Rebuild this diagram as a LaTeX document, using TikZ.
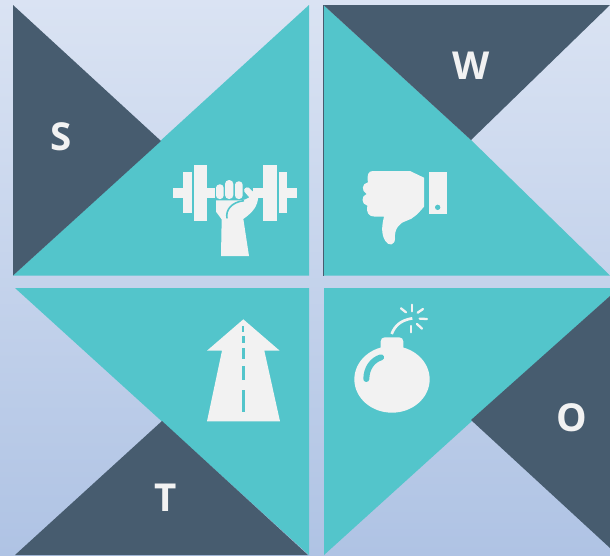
\documentclass[tikz,border=0pt]{standalone}
\usepackage{fontspec}
\setmainfont{Open Sans}
\definecolor{teal1}{HTML}{53C5CB}
\definecolor{dark1}{HTML}{475C6F}
\definecolor{icon1}{HTML}{F2F2F2}
\definecolor{bgtop}{HTML}{DAE3F3}
\definecolor{bgbot}{HTML}{AFC3E4}
\tikzset{
  tealtri/.style={fill=teal1,draw=none},
  darktri/.style={fill=dark1,draw=none},
  iconfill/.style={fill=icon1,draw=none},
  cutline/.style={draw=teal1,line cap=butt},
  spark/.style={draw=icon1,line width=2.3pt,line cap=round},
  letter/.style={text=icon1,font=\fontsize{38.5}{39}\selectfont\bfseries,inner sep=0pt},
}
\begin{document}
\begin{tikzpicture}[x=1pt,y=-1pt]
\useasboundingbox (0,0) rectangle (610,555);
\shade[top color=bgtop,bottom color=bgbot] (0,0) rectangle (610,555);
% S
\fill[tealtri] (309,5) -- (13,275.5) -- (309,275.5) -- cycle;
\fill[darktri] (13,5) -- (13,275.5) -- (161,141) -- cycle;
% W
\fill[tealtri] (323.5,5) -- (471,140) -- (610,275.5) -- (323.5,275.5) -- cycle;
\fill[darktri] (323.5,5) -- (610,5) -- (471,140) -- cycle;
\draw[dark1,line width=1pt] (323.5,5) -- (323.5,275.5);
% T
\fill[tealtri] (15,288) -- (309,288) -- (309,555) -- cycle;
\fill[darktri] (162,421) -- (308,555) -- (15,555) -- cycle;
% O
\fill[tealtri] (324,288) -- (610,288) -- (610,296) -- (324,555) -- cycle;
\fill[darktri] (610,296) -- (610,548) -- (471,420) -- cycle;
% letters
\node[letter] (s) at (61,137) {S};
\node[letter] (w) at (471,66) {W};
\node[letter] (t) at (166,498) {T};
\node[letter] (o) at (572,418) {O};
% dumbbell and fist
\begin{scope}[shift={(160,150)},scale=1/3]
\fill[iconfill] (38,113) rectangle (70,143);
\fill[iconfill] (68,65) rectangle (95,190);
\fill[iconfill] (102,45) rectangle (140,212);
\fill[iconfill] (140,113) rectangle (165,143);
\fill[iconfill] (280,113) rectangle (312,143);
\fill[iconfill] (310,45) rectangle (350,212);
\fill[iconfill] (358,65) rectangle (382,190);
\fill[iconfill] (382,113) rectangle (412,143);
\fill[iconfill,rounded corners=3.5pt] (168,147) -- (168,103) -- (191,103) -- (191,147) -- cycle;
\fill[iconfill,rounded corners=4pt] (195,147) -- (195,90) -- (220,90) -- (220,147) -- cycle;
\fill[iconfill,rounded corners=3.5pt] (225,147) -- (225,94) -- (248,94) -- (248,147) -- cycle;
\fill[iconfill] (168,151) -- (240,151) .. controls (252,150) and (262,147) .. (268,142) -- (253,125) .. controls (250,116) and (258,110) .. (266,113) -- (295,140) .. controls (292,170) and (280,185) .. (250,207) -- (267,318) -- (183,318) -- (185,208) -- (168,185) -- cycle;
\draw[cutline,line width=1.6pt] (201,205) .. controls (196,180) and (215,156) .. (252,152);
\end{scope}
% thumb down
\begin{scope}[shift={(350,155)},scale=1/3]
\fill[iconfill] (236,50) rectangle (290,178);
\fill[teal1] (263,157) circle (8);
\fill[iconfill] (222,68) -- (180,48) -- (68,48) .. controls (55,48) and (50,60) .. (54,82) .. controls (35,85) and (33,108) .. (50,117) .. controls (33,122) and (33,148) .. (52,152) .. controls (48,172) and (55,185) .. (75,185) -- (102,185) .. controls (96,210) and (92,235) .. (106,258) .. controls (115,274) and (135,272) .. (135,250) .. controls (133,225) and (145,205) .. (168,198) .. controls (190,192) and (205,175) .. (222,155) -- cycle;
\end{scope}
% road
\begin{scope}[shift={(195,310)},scale=1/3]
\fill[iconfill] (145,28) -- (254,122) -- (208,122) -- (255,334) -- (36,334) -- (81,122) -- (36,122) -- cycle;
\fill[teal1] (142,48) rectangle (148,65);
\fill[teal1] (142,78) rectangle (149,100);
\fill[teal1] (141,115) rectangle (149,147);
\fill[teal1] (141,167) rectangle (150,210);
\fill[teal1] (140,240) rectangle (151,307);
\end{scope}
% bomb
\begin{scope}[shift={(345,300)},scale=1/3]
\fill[iconfill] (141,238) ellipse [x radius=113,y radius=100];
\fill[iconfill,rounded corners=4pt] (107,160) -- (107,112) -- (175,112) -- (175,160) -- cycle;
\draw[cutline,line width=6pt,line cap=round] (64,237) .. controls (64,205) and (82,180) .. (108,172);
\draw[icon1,line width=2.7pt] (140,102) .. controls (150,75) and (170,60) .. (202,55);
\draw[spark] (168,25) -- (183,37);
\draw[spark] (201,14) -- (201,34);
\draw[spark] (218,38) -- (234,27);
\draw[spark] (224,56) -- (246,57);
\draw[spark] (216,72) -- (231,86);
\draw[spark] (199,78) -- (199,97);
\end{scope}
\end{tikzpicture}
\end{document}
